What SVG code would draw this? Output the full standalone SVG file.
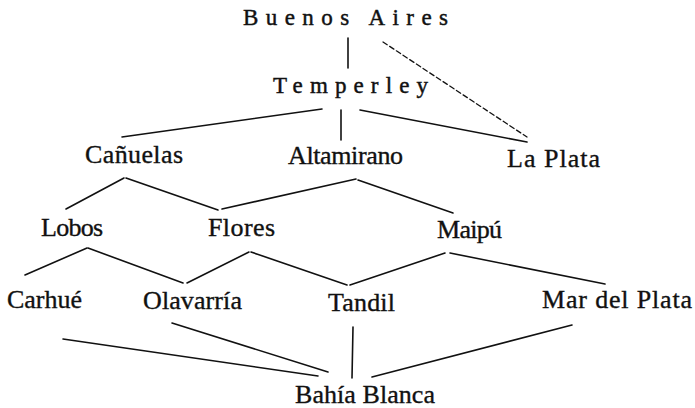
<svg xmlns="http://www.w3.org/2000/svg" width="695" height="408" viewBox="0 0 695 408">
<style>
.t{font-family:"Liberation Serif","Times New Roman",serif;font-size:26px;fill:#111;stroke:#111;stroke-width:0.35}
.s{font-size:23px;stroke-width:0.45}
.c line{stroke:#111;stroke-width:1.6;stroke-linecap:round}
.c .d{stroke-dasharray:5 3;stroke-width:1.3}
</style>
<rect width="695" height="408" fill="#fff"/>
<g class="c" id="connectors">
<line x1="348" y1="38" x2="348" y2="68"/>
<line class="d" x1="383" y1="42" x2="527" y2="137"/>
<line x1="322" y1="109" x2="122" y2="137"/>
<line x1="341" y1="110" x2="341" y2="140"/>
<line x1="360" y1="110" x2="527" y2="142"/>
<line x1="124" y1="178" x2="66" y2="209"/>
<line x1="126" y1="178" x2="218" y2="210"/>
<line x1="356" y1="179" x2="222" y2="209"/>
<line x1="358" y1="180" x2="453" y2="213"/>
<line x1="87" y1="248" x2="25" y2="275"/>
<line x1="88" y1="248" x2="183" y2="283"/>
<line x1="249" y1="252" x2="187" y2="283"/>
<line x1="251" y1="252" x2="347" y2="285"/>
<line x1="445" y1="253" x2="350" y2="285"/>
<line x1="450" y1="253" x2="605" y2="284"/>
<line x1="63" y1="339" x2="318" y2="376"/>
<line x1="172" y1="323" x2="328" y2="372"/>
<line x1="353" y1="327" x2="352" y2="378"/>
<line x1="572" y1="325" x2="372" y2="377"/>
</g>
<g id="buenos-aires"><text class="t s" x="243" y="25" textLength="205" lengthAdjust="spacing">Buenos Aires</text></g>
<g id="temperley"><text class="t s" x="273" y="93" textLength="155" lengthAdjust="spacing">Temperley</text></g>
<g id="canuelas"><text class="t" x="85" y="163" textLength="98">Cañuelas</text></g>
<g id="altamirano"><text class="t" x="288" y="164" textLength="115">Altamirano</text></g>
<g id="la-plata"><text class="t" x="507" y="167" textLength="93">La Plata</text></g>
<g id="lobos"><text class="t" x="41" y="236" textLength="62">Lobos</text></g>
<g id="flores"><text class="t" x="208" y="236" textLength="67">Flores</text></g>
<g id="maipu"><text class="t" x="437" y="238" textLength="65">Maipú</text></g>
<g id="carhue"><text class="t" x="7" y="308" textLength="75">Carhué</text></g>
<g id="olavarria"><text class="t" x="143" y="309" textLength="99">Olavarría</text></g>
<g id="tandil"><text class="t" x="328" y="311" textLength="67">Tandil</text></g>
<g id="mar-del-plata"><text class="t" x="542" y="308" textLength="150">Mar del Plata</text></g>
<g id="bahia-blanca"><text class="t" x="295" y="403" textLength="140">Bahía Blanca</text></g>
</svg>
